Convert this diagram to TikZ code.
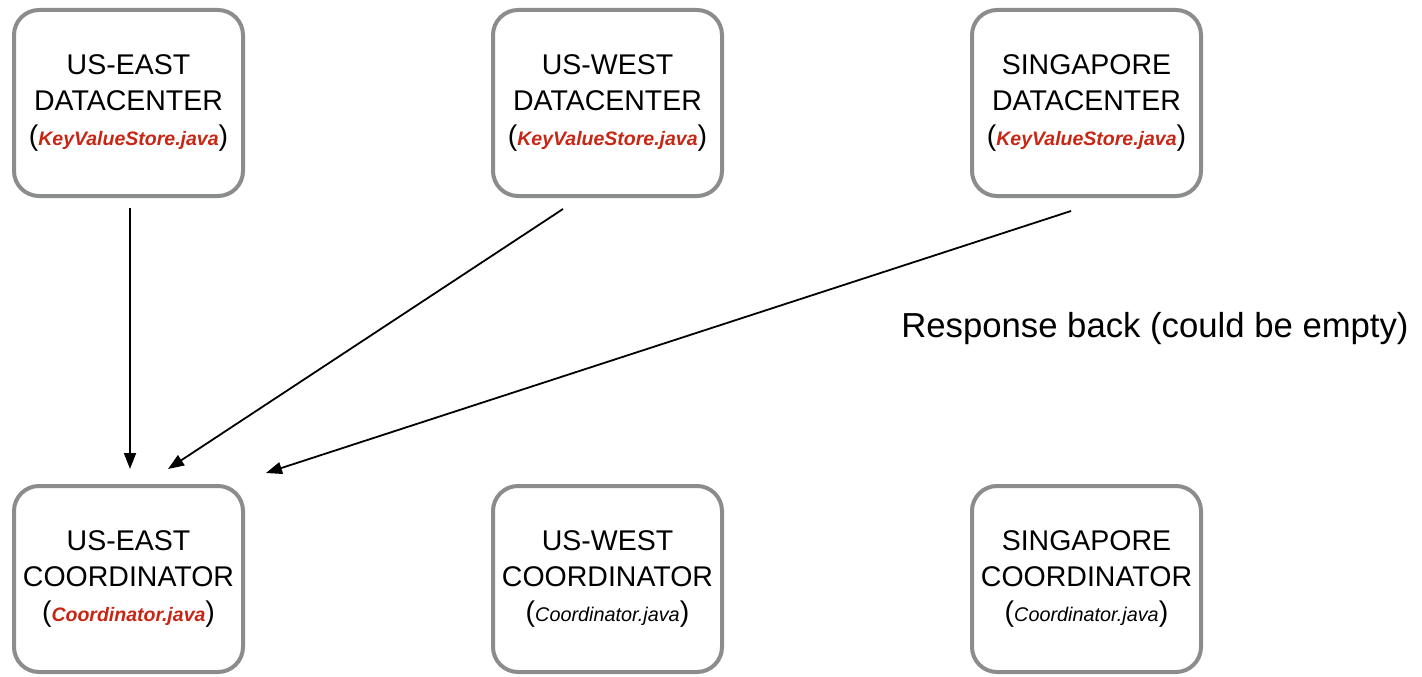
\documentclass[tikz,border=0pt]{standalone}
\usepackage{fontspec}
\setmainfont{Liberation Sans}
\usetikzlibrary{arrows.meta,calc}
\definecolor{boxgray}{RGB}{138,140,142}
\definecolor{srcred}{RGB}{200,38,20}
\newcommand{\srcfile}[1]{{\fontsize{19.5}{23}\selectfont\bfseries\itshape\color{srcred}#1}}
\newcommand{\plainfile}[1]{{\fontsize{19.8}{23}\selectfont\itshape #1}}
\begin{document}
\begin{tikzpicture}[x=1pt,y=-1pt,
  site/.style={draw=boxgray, line width=4pt, rounded corners=25pt, fill=white,
    minimum width=229pt, minimum height=186pt, inner sep=0pt, outer sep=0pt,
    align=center, font=\fontsize{28.5}{35.5}\selectfont},
  reply/.style={-{Triangle[length=16pt,width=12pt]}, line width=1.8pt, black}]
  \useasboundingbox (0,0) rectangle (1422,677);

  % datacenters (top row)
  \node[site] (dcE) at (128.5,103) {US-EAST\\DATACENTER\\(\srcfile{KeyValueStore.java})};
  \node[site] (dcW) at (607.5,103) {US-WEST\\DATACENTER\\(\srcfile{KeyValueStore.java})};
  \node[site] (dcS) at (1086.5,103) {SINGAPORE\\DATACENTER\\(\srcfile{KeyValueStore.java})};

  % coordinators (bottom row)
  \node[site] (coE) at (128.5,579) {US-EAST\\COORDINATOR\\(\srcfile{Coordinator.java})};
  \node[site] (coW) at (607.5,579) {US-WEST\\COORDINATOR\\(\plainfile{Coordinator.java})};
  \node[site] (coS) at (1086.5,579) {SINGAPORE\\COORDINATOR\\(\plainfile{Coordinator.java})};

  % arrow end points
  \coordinate (eFrom) at ($(dcE.south)+(1.5,12)$);
  \coordinate (eTo)   at ($(coE.north)+(1.5,-17)$);
  \coordinate (wFrom) at ($(dcW.south)+(-44.5,13)$);
  \coordinate (wTo)   at ($(coE.north)+(39.5,-17)$);
  \coordinate (sFrom) at ($(dcS.south)+(-15.5,15)$);
  \coordinate (sTo)   at ($(coE.north)+(137.5,-13)$);

  \draw[reply] (eFrom) -- (eTo);
  \draw[reply] (wFrom) -- (wTo);
  \draw[reply] (sFrom) -- (sTo);

  \node[anchor=base, inner sep=0pt, font=\fontsize{34.7}{41}\selectfont] (resp) at (1155,337) {Response back (could be empty)};
\end{tikzpicture}
\end{document}
